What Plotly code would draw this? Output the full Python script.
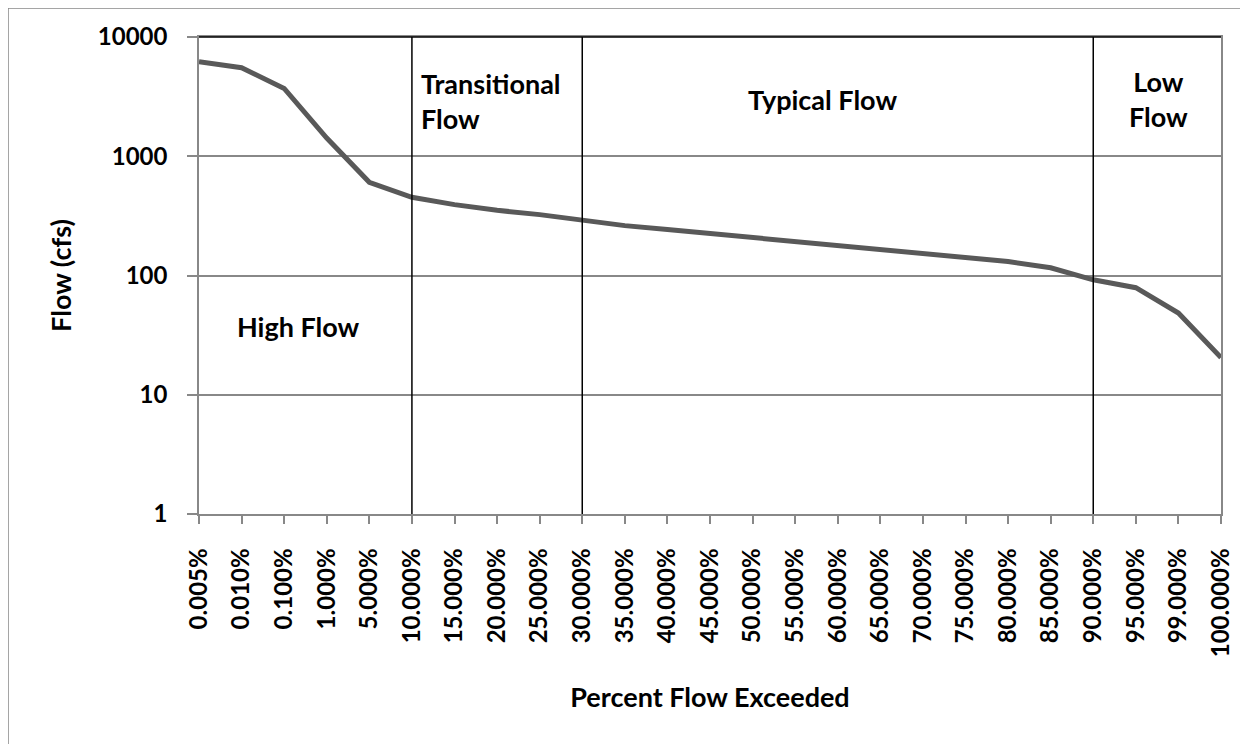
import plotly.graph_objects as go

categories = ["0.005%", "0.010%", "0.100%", "1.000%", "5.000%", "10.000%", "15.000%",
              "20.000%", "25.000%", "30.000%", "35.000%", "40.000%", "45.000%", "50.000%",
              "55.000%", "60.000%", "65.000%", "70.000%", "75.000%", "80.000%", "85.000%",
              "90.000%", "95.000%", "99.000%", "100.000%"]
flow_cfs = [6200, 5520, 3700, 1420, 605, 453, 393, 352, 324, 290, 262, 243, 225, 211,
            194, 181, 167, 155, 143, 131, 116, 92, 79, 48.5, 20.5]
boundaries = ["10.000%", "30.000%", "90.000%"]
ytick_vals = [1, 10, 100, 1000, 10000]
ytick_text = ["1", "10", "100", "1000", "10000"]

OFF = 8  # page body margin
W, H = 1240, 736
L, T = 199 - OFF, 37 - OFF
PW, PH = 1022, 477
R, B = W - L - PW, H - T - PH

def px(x):  # page pixel -> paper
    return (x - OFF - L) / PW

def py(y):
    return (T + PH - (y - OFF)) / PH

FONT = "Lato"
fig = go.Figure()
fig.add_trace(go.Scatter(x=categories, y=flow_cfs, mode="lines",
                         line=dict(color="#595959", width=5), showlegend=False))

shapes = []
for b in boundaries:
    shapes.append(dict(type="line", xref="x", yref="paper", x0=b, x1=b, y0=0, y1=1,
                       line=dict(color="black", width=1.5)))
shapes.append(dict(type="line", xref="paper", yref="paper", x0=0, x1=1, y0=1, y1=1,
                   line=dict(color="black", width=1.5)))
shapes.append(dict(type="rect", xref="paper", yref="paper", x0=px(8), x1=px(1270),
                   y0=py(770), y1=py(8), line=dict(color="#888888", width=1.5),
                   fillcolor="rgba(0,0,0,0)", layer="below"))

afont = dict(family=FONT, size=27, color="black", weight="bold")
annotations = [
    dict(text="High Flow", x=px(298), y=py(326), xanchor="center", yanchor="middle"),
    dict(text="Transitional<br>Flow", x=px(419), y=py(101), xanchor="left", yanchor="middle", align="left"),
    dict(text="Typical Flow", x=px(822), y=py(99), xanchor="center", yanchor="middle"),
    dict(text="Low<br>Flow", x=px(1158), y=py(99), xanchor="center", yanchor="middle", align="center"),
]
for a in annotations:
    a.update(xref="paper", yref="paper", showarrow=False, font=afont)

tfont = dict(family=FONT, size=24, color="black", weight="bold")
ttfont = dict(family=FONT, size=27, color="black", weight="bold")
fig.update_layout(
    width=W, height=H,
    margin=dict(l=L, r=R, t=T, b=B, autoexpand=False),
    paper_bgcolor="white", plot_bgcolor="white",
    shapes=shapes, annotations=annotations,
    xaxis=dict(type="category", range=[0, len(categories) - 1], showgrid=False,
               showline=True, linecolor="#888888", linewidth=1.5, mirror=True,
               ticks="outside", ticklen=8, tickcolor="#888888", tickwidth=1.5,
               tickangle=-90, tickfont=tfont, ticklabelstandoff=15,
               title=dict(text="Percent Flow Exceeded", font=ttfont, standoff=32)),
    yaxis=dict(type="log", range=[0, 4], tickvals=ytick_vals, ticktext=ytick_text,
               showgrid=True, gridcolor="#888888", gridwidth=1.5,
               showline=True, linecolor="#888888", linewidth=1.5, mirror=True,
               ticks="outside", ticklen=10, tickcolor="#888888", tickwidth=1.5,
               tickfont=tfont, ticklabelstandoff=15,
               title=dict(text="Flow (cfs)", font=ttfont, standoff=18)),
)
fig.write_html("out.html")
